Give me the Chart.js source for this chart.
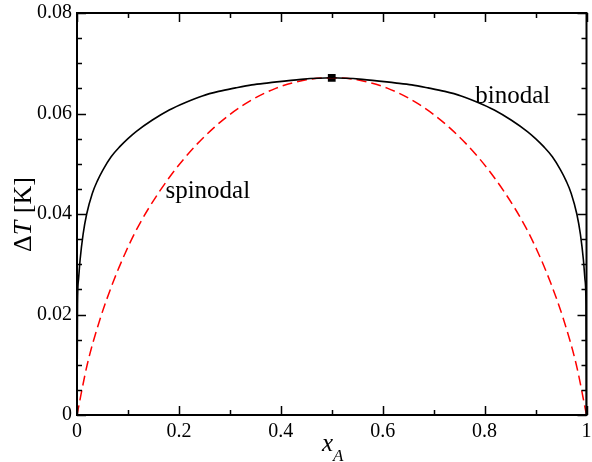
<!DOCTYPE html>
<html>
<head>
<meta charset="utf-8">
<script src="https://cdn.jsdelivr.net/npm/chart.js@4/dist/chart.umd.min.js"></script>
<style>
html,body{margin:0;padding:0;background:#fff;}
#wrap{width:592px;height:462px;position:relative;}
</style>
</head>
<body>
<div id="wrap"><canvas id="c" width="592" height="462"></canvas></div>
<script>
// Binodal curve (x_A, ΔT in K)
const binodalX = [0.000,0.001,0.003,0.006,0.012,0.019,0.030,0.040,0.051,0.067,0.084,0.100,0.116,0.148,0.181,0.213,0.246,0.278,0.311,0.343,0.376,0.440,0.500,0.560,0.624,0.657,0.689,0.722,0.754,0.787,0.819,0.852,0.884,0.900,0.916,0.933,0.949,0.960,0.970,0.981,0.988,0.994,0.997,0.999,1.000];
const binodalY = [0.000,0.022,0.027,0.0308,0.0360,0.0400,0.0441,0.0466,0.0488,0.0514,0.0534,0.0550,0.0564,0.0587,0.0607,0.0622,0.0635,0.0644,0.0651,0.0657,0.0661,0.0668,0.0671,0.0668,0.0661,0.0657,0.0651,0.0644,0.0635,0.0622,0.0607,0.0587,0.0564,0.0550,0.0534,0.0514,0.0488,0.0466,0.0441,0.0400,0.0360,0.0308,0.027,0.022,0.000];
// Spinodal curve
const spinodalX = [0.000,0.020,0.045,0.070,0.095,0.120,0.160,0.210,0.270,0.330,0.390,0.450,0.500,0.550,0.610,0.670,0.730,0.790,0.840,0.880,0.905,0.930,0.955,0.980,1.000];
const spinodalY = [0.000,0.0100,0.0190,0.0262,0.0323,0.0375,0.0442,0.0510,0.0573,0.0619,0.0650,0.0667,0.0671,0.0667,0.0650,0.0619,0.0573,0.0510,0.0442,0.0375,0.0323,0.0262,0.0190,0.0100,0.000];
// Critical point
const criticalX = [0.5];
const criticalY = [0.0671];
// Axis ticks
const xTickLabels = ['0','0.2','0.4','0.6','0.8','1'];
const yTickLabels = ['0','0.02','0.04','0.06','0.08'];
const curveLabels = [{text:'spinodal', x:0.1735, y:0.0432},{text:'binodal', x:0.7817, y:0.0621}];

const SERIF = '"Liberation Serif", "DejaVu Serif", serif';
const pts = (xs, ys) => xs.map((x,i)=>({x:x, y:ys[i]}));

const frame = {
  id:'frame',
  afterDatasetsDraw(chart){
    const ctx = chart.ctx, a = chart.chartArea;
    const xs = chart.scales.x, ys = chart.scales.y;
    ctx.save();
    ctx.strokeStyle = '#000';
    ctx.lineWidth = 2;
    ctx.strokeRect(a.left, a.top, a.right-a.left, a.bottom-a.top);
    ctx.lineWidth = 1.5;
    ctx.beginPath();
    for (let i=0;i<=10;i++){
      const v = i/10, px = Math.round(xs.getPixelForValue(v))+0.5;
      const L = (i%2===0)?9:5;
      ctx.moveTo(px,a.bottom); ctx.lineTo(px,a.bottom-L);
      ctx.moveTo(px,a.top); ctx.lineTo(px,a.top+L);
    }
    for (let i=0;i<=16;i++){
      const v = i*0.005, py = Math.round(ys.getPixelForValue(v))+0.5;
      const L = (i%4===0)?9:5;
      ctx.moveTo(a.left,py); ctx.lineTo(a.left+L,py);
      ctx.moveTo(a.right,py); ctx.lineTo(a.right-L,py);
    }
    ctx.stroke();
    // curve labels
    ctx.fillStyle = '#000';
    ctx.font = '25px ' + SERIF;
    ctx.textBaseline = 'alphabetic';
    ctx.textAlign = 'left';
    curveLabels.forEach(l=>{
      ctx.fillText(l.text, xs.getPixelForValue(l.x), ys.getPixelForValue(l.y));
    });
    // x axis title: x_A
    ctx.font = 'italic 25px ' + SERIF;
    const cx = 322;
    ctx.fillText('x', cx, 451);
    const wx = ctx.measureText('x').width;
    ctx.font = 'italic 17px ' + SERIF;
    ctx.fillText('A', cx+wx, 461);
    // y axis title: ΔT [K]
    ctx.translate(31, 215);
    ctx.rotate(-Math.PI/2);
    const p1='Δ', p3=' [K]';
    ctx.font = '26px ' + SERIF; const w1 = ctx.measureText(p1).width;
    ctx.font = 'italic 26px ' + SERIF; const w2 = ctx.measureText('T').width;
    ctx.font = '26px ' + SERIF; const w3 = ctx.measureText(p3).width;
    let sx = -(w1+w2+w3)/2;
    ctx.fillText(p1, sx, 0); sx += w1;
    ctx.font = 'italic 26px ' + SERIF; ctx.fillText('T', sx, 0); sx += w2;
    ctx.font = '26px ' + SERIF; ctx.fillText(p3, sx+1, 0);
    ctx.restore();
  }
};

function build(){
  new Chart(document.getElementById('c'), {
    type:'line',
    data:{
      datasets:[
        {label:'binodal', data:pts(binodalX,binodalY), borderColor:'#000', borderWidth:1.6, pointRadius:0, fill:false, cubicInterpolationMode:'monotone'},
        {label:'spinodal', data:pts(spinodalX,spinodalY), borderColor:'#ff0000', borderWidth:1.5, borderDash:[10,5], pointRadius:0, fill:false, cubicInterpolationMode:'monotone'},
        {label:'critical', data:pts(criticalX,criticalY), showLine:false, pointStyle:'rect', pointRadius:5.5, pointBackgroundColor:'#000', pointBorderColor:'#000', pointBorderWidth:0}
      ]
    },
    options:{
      responsive:false,
      animation:false,
      events:[],
      layout:{padding:{left:0, top:13, right:2, bottom:0}},
      plugins:{legend:{display:false}, tooltip:{enabled:false}},
      scales:{
        x:{
          type:'linear', min:0, max:1,
          grid:{display:false, drawTicks:false},
          border:{display:false},
          afterFit(s){ s.height = 47; s.paddingLeft = 0; s.paddingRight = 0; if (s._margins){ s._margins.right = 0; } },
          ticks:{stepSize:0.2, padding:5, color:'#000', maxRotation:0,
            font:{family:SERIF, size:20},
            callback:(v)=>{ const i = Math.round(v/0.2); return Math.abs(v-i*0.2)<1e-9 ? xTickLabels[i] : ''; }}
        },
        y:{
          type:'linear', min:0, max:0.08,
          grid:{display:false, drawTicks:false},
          border:{display:false},
          afterFit(s){ s.width = 77; s.paddingTop = 0; s.paddingBottom = 0; if (s._margins){ s._margins.top = 0; s._margins.bottom = 0; } },
          ticks:{stepSize:0.02, padding:5, color:'#000',
            font:{family:SERIF, size:20},
            callback:(v)=>{ const i = Math.round(v/0.02); return Math.abs(v-i*0.02)<1e-9 ? yTickLabels[i] : ''; }}
        }
      }
    },
    plugins:[frame]
  });
}
Promise.all([
  document.fonts.load('20px "Liberation Serif"'),
  document.fonts.load('italic 20px "Liberation Serif"')
]).then(build, build);
</script>
</body>
</html>
